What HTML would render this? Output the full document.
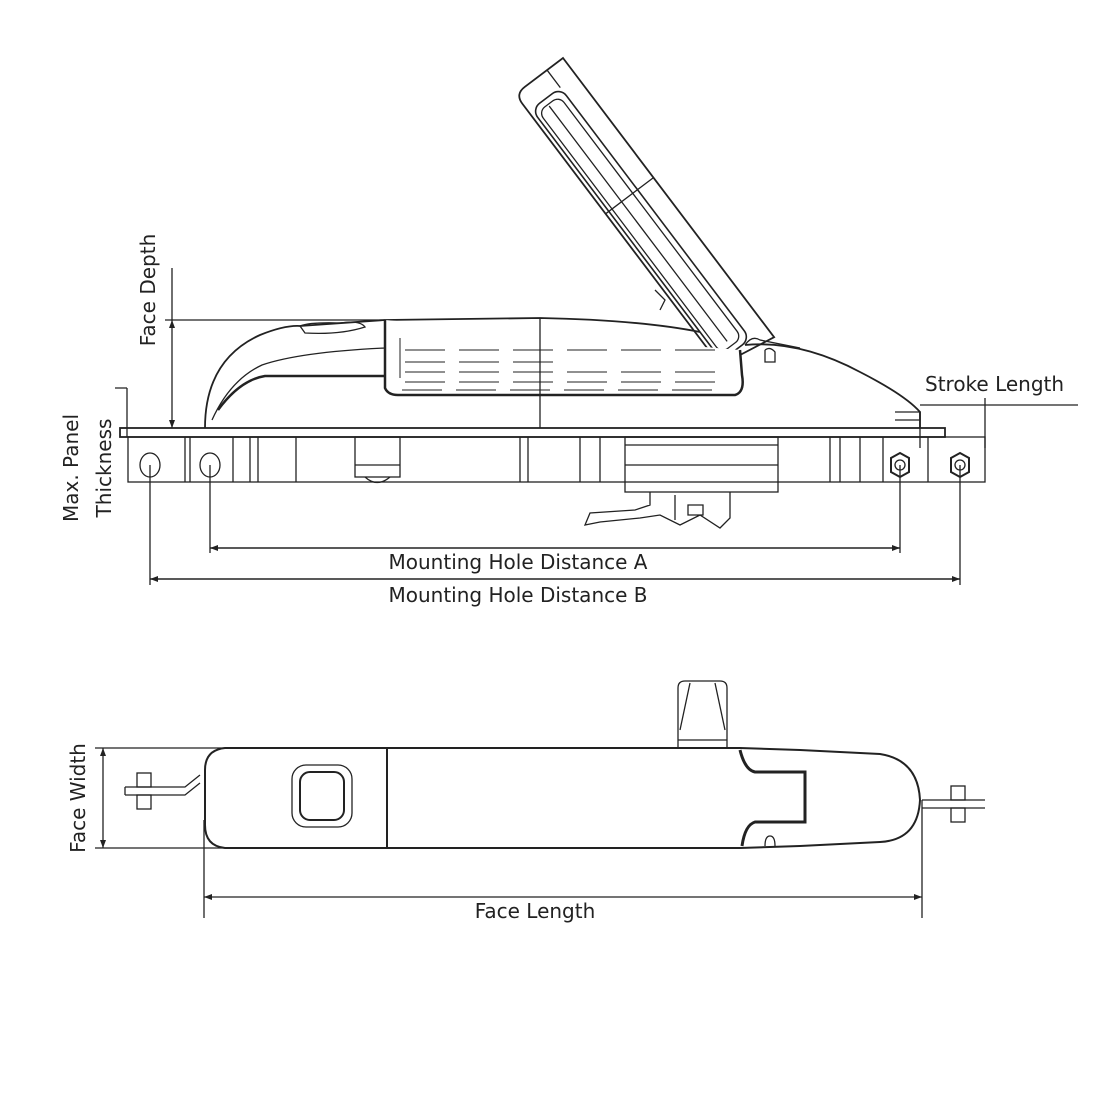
<!DOCTYPE html>
<html><head><style>
html,body{margin:0;padding:0;background:#fff;}
svg{display:block;}
text{font-family:"DejaVu Sans","Liberation Sans",sans-serif;font-size:20px;fill:#222;}
</style></head><body>
<svg width="1100" height="1100" viewBox="0 0 1100 1100" xmlns="http://www.w3.org/2000/svg">
<g fill="none" stroke="#222" stroke-width="1.3">
<!-- handle -->
<g transform="translate(563,58) rotate(52.9)">
<path d="M0,0 L350,0 L340,60 L12,60 Q0,60 0,48 Z" fill="#fff" stroke-width="1.8"/>
<rect x="22" y="20" width="315" height="36" rx="10" stroke-width="1.6"/>
<rect x="28" y="26" width="303" height="26" rx="8"/>
<path d="M30,40 H325 M150,0 V60 M0,20 H22"/>
</g>
<path d="M655,290 L665,300 L660,310"/>
<!-- body -->
<path d="M205,428 Q205,360 260,335 Q285,325 300,326 L385,320 L540,318 Q640,320 700,332" stroke-width="1.8"/>
<path d="M745,345 Q800,340 860,372 Q905,395 920,412 L920,428" stroke-width="1.8"/>
<path d="M212,420 Q230,380 262,365 Q300,352 385,348"/>
<path d="M218,410 Q240,380 265,376 L385,376" stroke-width="2.5"/>
<path d="M300,326 Q310,322 340,323 Q360,320 365,327 Q340,335 305,333 Z"/>
<path d="M385,320 L385,388 Q388,395 398,395 L735,395 Q745,392 742,375 L740,350" fill="#fff" stroke-width="2.5"/>
<path d="M400,338 L400,390 L725,390 M405,350 L720,350 M405,362 L560,362 M405,372 L715,372 M405,382 L720,382" stroke-width="1" stroke-dasharray="40,14"/>
<path d="M540,318 L540,428"/>
<path d="M745,345 Q752,335 760,340 L800,348 M765,350 L765,362 L775,362 L775,352 Q770,346 765,350"/>
<path d="M895,412 L920,412 L920,420 L895,420"/>
<!-- plate -->
<rect x="120" y="428" width="825" height="9" stroke-width="1.8"/>
<rect x="128" y="437" width="857" height="45"/>
<path d="M185,437 V482 M190,437 V482 M233,437 V482 M250,437 V482 M258,437 V482 M296,437 V482 M520,437 V482 M528,437 V482 M580,437 V482 M600,437 V482 M830,437 V482 M840,437 V482 M860,437 V482 M883,437 V482 M928,437 V482"/>
<rect x="355" y="437" width="45" height="40"/>
<path d="M355,465 H400 M365,477 Q377,488 390,477"/>
<rect x="625" y="437" width="153" height="55"/>
<path d="M625,465 H778 M625,445 H778"/>
<path d="M650,492 L650,505 L635,510 L590,513 L585,525 L600,522 L640,518 L660,515 L680,525 L700,515 L720,528 L730,518 L730,492 M675,495 V520 M688,505 h15 v10 h-15 z"/>
<!-- holes -->
<ellipse cx="150" cy="465" rx="10" ry="12"/><ellipse cx="210" cy="465" rx="10" ry="12"/>
<path d="M900,453 l9,5 v14 l-9,5 l-9,-5 v-14 z M960,453 l9,5 v14 l-9,5 l-9,-5 v-14 z" stroke-width="2"/>
<circle cx="900" cy="465" r="5"/><circle cx="960" cy="465" r="5"/>
<!-- dimensions top -->
<path d="M165,320 H385 M172,268 V428 M127,388 V437 M115,388 H127 M120,428 H127"/>
<path d="M150,465 V585 M210,465 V553 M900,465 V553 M960,465 V585"/>
<path d="M210,548 H900 M150,579 H960" stroke-width="1.5"/>
<path d="M920,405 H985 M985,398 V448 M920,412 V448 M985,405 H1078"/>
</g>
<g fill="#222">
<path d="M210,548 l8,-3 v6 z M900,548 l-8,-3 v6 z M150,579 l8,-3 v6 z M960,579 l-8,-3 v6 z M172,320 l-3,8 h6 z M172,428 l-3,-8 h6 z"/>
</g>
<text x="518" y="569" text-anchor="middle">Mounting Hole Distance A</text>
<text x="518" y="602" text-anchor="middle">Mounting Hole Distance B</text>
<text x="925" y="391">Stroke Length</text>
<text transform="translate(155,290) rotate(-90)" text-anchor="middle">Face Depth</text>
<text transform="translate(78,468) rotate(-90)" text-anchor="middle">Max. Panel</text>
<text transform="translate(111,468) rotate(-90)" text-anchor="middle">Thickness</text>

<!-- bottom view -->
<g fill="none" stroke="#222" stroke-width="1.3">
<path d="M225,748 L740,748 L800,750 L880,754 Q918,760 920,800 Q918,840 880,842 L800,846 L740,848 L225,848 Q205,846 205,825 L205,770 Q205,750 225,748 Z" stroke-width="2"/>
<path d="M387,748 V848" stroke-width="2"/>
<rect x="292" y="765" width="60" height="62" rx="14"/>
<rect x="300" y="772" width="44" height="48" rx="10" stroke-width="2"/>
<path d="M740,750 Q745,770 755,772 L805,772 L805,822 L755,822 Q745,825 742,846" stroke-width="3"/>
<path d="M765,846 Q765,836 770,836 Q775,836 775,846"/>
<path d="M678,748 V688 Q678,681 685,681 L720,681 Q727,681 727,688 V748 M678,740 H727 M690,683 L680,730 M715,683 L725,730"/>
<path d="M95,748 H225 M95,848 H225 M103,748 V848 M204,820 V918 M922,800 V918 M204,897 H922"/>
<path d="M125,787 H185 L200,775 M125,795 H185 L200,783 M125,787 V795"/>
<rect x="137" y="773" width="14" height="14"/><rect x="137" y="795" width="14" height="14"/>
<path d="M922,800 H985 M922,808 H985"/>
<rect x="951" y="786" width="14" height="14"/><rect x="951" y="808" width="14" height="14"/>
</g>
<g fill="#222">
<path d="M103,748 l-3,8 h6 z M103,848 l-3,-8 h6 z M204,897 l8,-3 v6 z M922,897 l-8,-3 v6 z"/>
</g>
<text x="535" y="918" text-anchor="middle">Face Length</text>
<text transform="translate(85,798) rotate(-90)" text-anchor="middle">Face Width</text>
</svg>
</body></html>
